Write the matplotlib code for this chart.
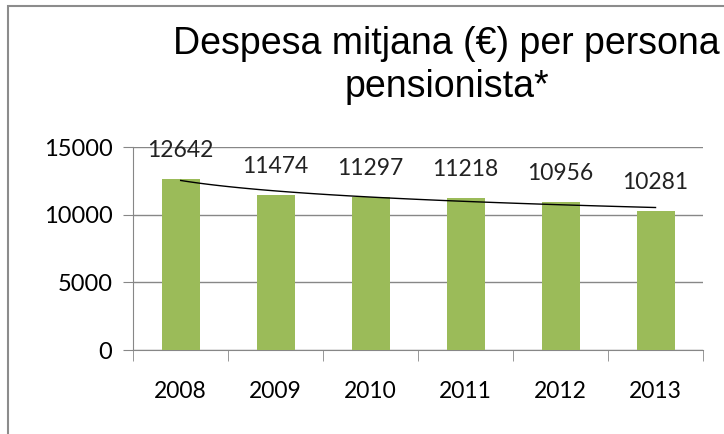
import numpy as np
import matplotlib
matplotlib.use("Agg")
import matplotlib.pyplot as plt
from matplotlib.patches import Rectangle

# Data
years = ["2008", "2009", "2010", "2011", "2012", "2013"]
spending = [12642, 11474, 11297, 11218, 10956, 10281]
y_ticks = [0, 5000, 10000, 15000]

bar_color = "#9BBB59"
grid_color = "#878787"

fig = plt.figure(figsize=(7.24, 4.34), dpi=100)
ax = fig.add_axes([0.184, 0.1935, 0.787, 0.4675])

x = np.arange(len(years))
ax.bar(x, spending, width=0.4, color=bar_color, zorder=3)

# Excel-style logarithmic trendline
coef = np.polyfit(np.log(x + 1), spending, 1)
xs = np.linspace(0, len(years) - 1, 100)
ax.plot(xs, coef[0] * np.log(xs + 1) + coef[1], color="black", lw=1.0, zorder=4)

for xi, v in zip(x, spending):
    ax.annotate(str(v), (xi, v), xytext=(0, 13), textcoords="offset points",
                ha="center", va="bottom", fontsize=16.5, family="Lato", color="#222222")

ax.set_xlim(-0.5, len(years) - 0.5)
ax.set_ylim(0, 15000)
ax.set_yticks(y_ticks)
ax.set_yticklabels([str(t) for t in y_ticks], fontsize=17, family="Lato")
ax.set_xticks(x)
ax.set_xticklabels(years, fontsize=16.5, family="Lato")
ax.tick_params(axis="x", length=0, pad=22)
ax.tick_params(axis="y", length=7, color=grid_color, pad=8)
# category boundary ticks
ax.set_xticks(np.arange(-0.5, len(years)), minor=True)
ax.tick_params(axis="x", which="minor", length=8, color=grid_color)

ax.grid(axis="y", color=grid_color, lw=1.0, zorder=0)
for s in ["top", "right"]:
    ax.spines[s].set_visible(False)
ax.spines["left"].set_color(grid_color)
ax.spines["bottom"].set_color(grid_color)

fig.text(0.617, 0.94, "Despesa mitjana (€) per persona\npensionista*",
         ha="center", va="top", fontsize=27, family="Liberation Sans",
         linespacing=1.25)

# chart frame (cropped at right and bottom)
fig.patches.append(Rectangle((8 / 724, -0.1), 1.2, 1.1 - 6 / 434, transform=fig.transFigure,
                             fill=False, edgecolor="#8c8c8c", lw=1.5))

fig.savefig("out.png", dpi=100)
